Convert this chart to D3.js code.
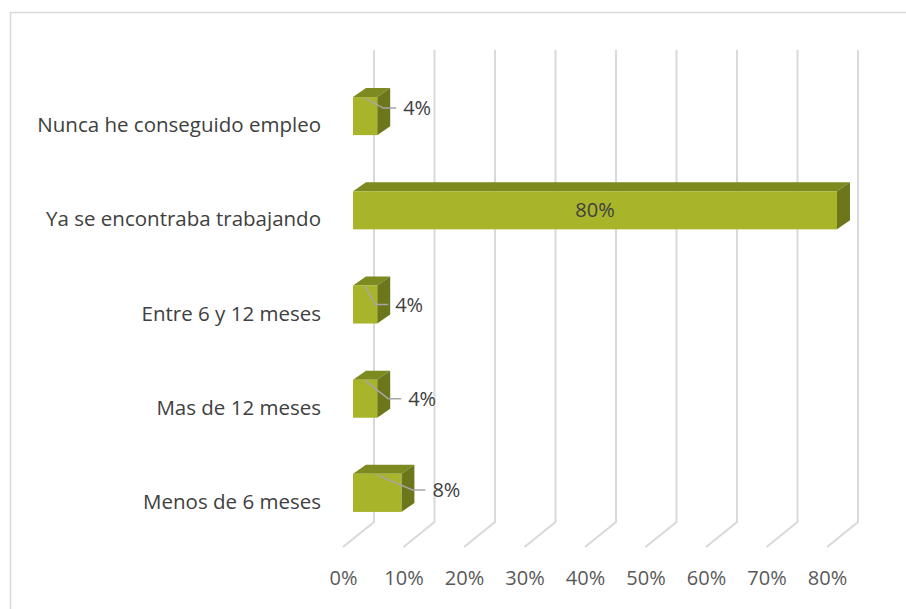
<!DOCTYPE html>
<html>
<head>
<meta charset="utf-8">
<script src="https://cdn.jsdelivr.net/npm/d3@7"></script>
<style>
  body { margin: 0; background: #fff; }
  svg { display: block; font-family: "Open Sans", sans-serif; }
</style>
</head>
<body>
<div id="chart"></div>
<script>
// datos
const categories = ["Nunca he conseguido empleo", "Ya se encontraba trabajando", "Entre 6 y 12 meses", "Mas de 12 meses", "Menos de 6 meses"];
const values = [0.04, 0.80, 0.04, 0.04, 0.08];
const tickValues = [0, 0.1, 0.2, 0.3, 0.4, 0.5, 0.6, 0.7, 0.8];

// desplazamiento de las etiquetas (como en el original, movidas a mano)
const labelNudge = [[13, -8], null, [5, 0], [18, 0], [18, -3]];

const width = 906, height = 609;

const svg = d3.select("#chart").append("svg")
    .attr("width", width)
    .attr("height", height);

// borde del área del gráfico
svg.append("rect")
    .attr("x", 10.5).attr("y", 12.5)
    .attr("width", 1000).attr("height", 1000)
    .attr("fill", "none")
    .attr("stroke", "#d9d9d9")
    .attr("stroke-width", 1.5);

// escalas
const x = d3.scaleLinear().domain([0, 0.8]).range([353, 837]);
const y = d3.scaleBand().domain(categories).range([69, 540])
    .paddingInner(0.596).paddingOuter(0.298);

const frontShift = -10, backShift = 21;
const floorFront = 547, floorBack = 522, wallTop = 50;
const depthX = 13, depthY = -9;

// rejilla (pared del fondo + suelo)
const grid = svg.append("g").attr("fill", "none").attr("stroke", "#d9d9d9").attr("stroke-width", 2);
grid.selectAll("path").data(tickValues).join("path")
    .attr("d", d => `M${x(d) + backShift},${wallTop}V${floorBack}L${x(d) + frontShift},${floorFront}`);

// etiquetas del eje
const axis = svg.append("g")
    .attr("transform", `translate(${frontShift},571)`)
    .call(d3.axisBottom(x).tickValues(tickValues).tickFormat(d3.format(".0%")).tickSize(0).tickPadding(0));
axis.select(".domain").remove();
axis.selectAll("text")
    .attr("font-family", "Open Sans, sans-serif")
    .attr("font-size", 20)
    .attr("fill", "#595959");

// barras 3D
const bars = svg.append("g").selectAll("g").data(categories).join("g");

// cara superior
bars.append("path")
    .attr("fill", "#7d8a1f")
    .attr("d", (c, i) => {
        const x0 = x(0), x1 = x(values[i]), y0 = y(c);
        return `M${x0},${y0}L${x0 + depthX},${y0 + depthY}L${x1 + depthX},${y0 + depthY}L${x1},${y0}Z`;
    });
// cara lateral
bars.append("path")
    .attr("fill", "#6b771a")
    .attr("d", (c, i) => {
        const x1 = x(values[i]), y0 = y(c), y1 = y(c) + y.bandwidth();
        return `M${x1},${y0}L${x1 + depthX},${y0 + depthY}L${x1 + depthX},${y1 + depthY}L${x1},${y1}Z`;
    });
// cara frontal
bars.append("rect")
    .attr("fill", "#a8b52a")
    .attr("x", x(0))
    .attr("y", c => y(c))
    .attr("width", (c, i) => x(values[i]) - x(0))
    .attr("height", y.bandwidth());

// etiquetas de categoría
svg.append("g").selectAll("text").data(categories).join("text")
    .attr("x", 321)
    .attr("y", c => y(c) + y.bandwidth() / 2 + 9)
    .attr("dy", "0.35em")
    .attr("text-anchor", "end")
    .attr("font-size", 20.5)
    .attr("fill", "#404040")
    .text(c => c);

// etiquetas de valor + líneas guía
const lab = svg.append("g");
categories.forEach((c, i) => {
    const v = values[i];
    const cy = y(c) + y.bandwidth() / 2;
    const txt = d3.format(".0%")(v);
    if (!labelNudge[i]) {
        lab.append("text")
            .attr("x", (x(0) + x(v)) / 2)
            .attr("y", cy)
            .attr("dy", "0.35em")
            .attr("text-anchor", "middle")
            .attr("font-size", 20)
            .attr("fill", "#404040")
            .text(txt);
        return;
    }
    const lx = x(v) + depthX + labelNudge[i][0];
    const ly = cy + labelNudge[i][1];
    const sx = (x(0) + x(v)) / 2, sy = y(c) + 1;
    lab.append("path")
        .attr("fill", "none")
        .attr("stroke", "#a6a6a6")
        .attr("stroke-width", 1.5)
        .attr("d", `M${sx},${sy}L${lx - 20},${ly}H${lx - 7}`);
    lab.append("text")
        .attr("x", lx)
        .attr("y", ly)
        .attr("dy", "0.35em")
        .attr("font-size", 20)
        .attr("fill", "#404040")
        .text(txt);
});
</script>
</body>
</html>
